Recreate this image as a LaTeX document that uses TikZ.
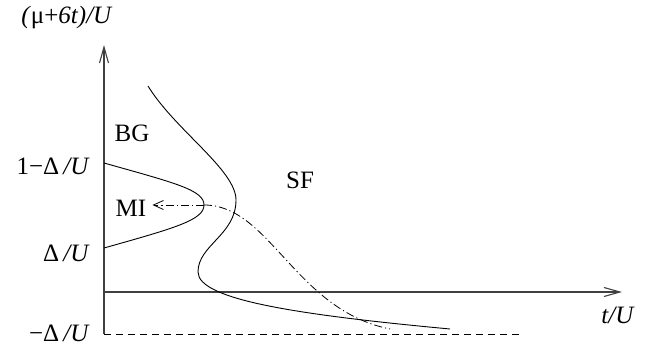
\documentclass[tikz,border=0pt]{standalone}
\usepackage{fontspec}
\setmainfont{Liberation Serif}
\usetikzlibrary{arrows.meta}

\tikzset{
  axis/.style={line width=1.1pt, black!75},
  barb/.style={-{Straight Barb[length=16pt,width=9pt]}},
  curve/.style={line width=0.9pt},
  dashdot/.style={line width=0.8pt, dash pattern=on 8pt off 3pt on 1.2pt off 3pt},
  lbl/.style={font=\fontsize{25}{28}\selectfont, inner sep=2pt},
}

\begin{document}
\begin{tikzpicture}[x=1pt, y=-1pt]
  \useasboundingbox (0,0) rectangle (647,347);
  % axes
  \coordinate (O) at (104,292);
  \coordinate (ytop) at (104,45);
  \coordinate (ybot) at (104,334);
  \coordinate (xend) at (622,292);
  \coordinate (dend) at (520,334);
  \draw[axis, barb] (ybot) -- (ytop);
  \draw[axis, barb] (O) -- (xend);
  \draw[line width=0.8pt, dash pattern=on 7pt off 5pt] (ybot) -- (dend);

  \node[lbl] (ylab) at (67,18) {\textit{(}μ+\textit{6t)/U}};
  \node[lbl] (xlab) at (618,315) {\textit{t/U}};
  \node[lbl, anchor=east] (upper) at (92,166) {1−Δ\,\textit{/U}};
  \node[lbl, anchor=east] (lower) at (92,253) {Δ\,\textit{/U}};
  \node[lbl, anchor=east] (bottom) at (92,333) {−Δ\,\textit{/U}};
  \node[lbl] (BG) at (132,133) {BG};
  \node[lbl] (MI) at (131,208) {MI};
  \node[lbl] (SF) at (300,180) {SF};

  % Mott lobe
  \coordinate (lobetop) at (104,163);
  \coordinate (lobetip) at (204,205);
  \coordinate (lobebot) at (104,248);
  \draw[curve] (lobetop) .. controls (175,183) and (204,190) .. (lobetip)
    .. controls (204,220) and (175,228) .. (lobebot);

  % boundary of the SF phase
  \coordinate (stop) at (148,86);
  \coordinate (sright) at (236,200);
  \coordinate (sleft) at (198,272);
  \coordinate (send) at (450,329);
  \draw[curve] (stop) .. controls (175,130) and (236,170) .. (sright)
    .. controls (236,235) and (198,245) .. (sleft)
    .. controls (198,300) and (300,315) .. (send);

  % path
  \coordinate (pend) at (390,329);
  \draw[dashdot] (lobetip) .. controls (270,205) and (295,310) .. (pend);
  \draw[dashdot, -{Straight Barb[length=10pt,width=9pt]}, shorten >=4pt]
    (lobetip) -- (lobetip -| MI.east);
\end{tikzpicture}
\end{document}
